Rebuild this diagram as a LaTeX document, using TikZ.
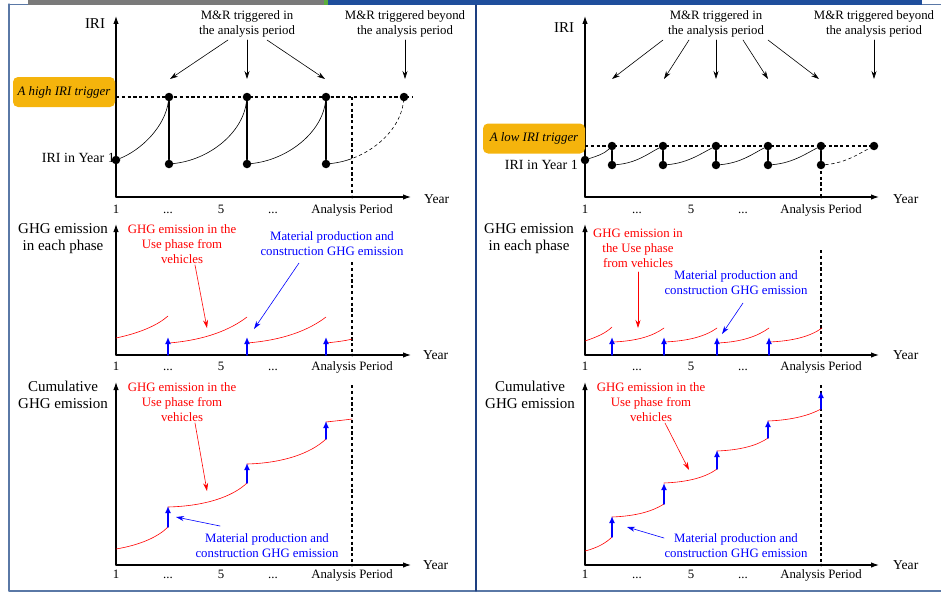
\documentclass[tikz,border=0pt]{standalone}
\usepackage{fontspec}
\setmainfont{Liberation Serif}
\usetikzlibrary{arrows.meta}
\definecolor{trigbox}{HTML}{F5B40C}
\definecolor{framecol}{HTML}{5A78A6}
\definecolor{navyline}{HTML}{1D3F80}
\definecolor{bargray}{HTML}{7A7A7A}
\definecolor{bargreen}{HTML}{5BAE3C}
\definecolor{barblue}{HTML}{1F4E9C}
\begin{document}
\begin{tikzpicture}[x=1pt,y=-1pt,>=Stealth,line cap=round,line join=round,
  font=\fontsize{12.8}{15}\selectfont,
  dot/.style={circle,fill,inner sep=0pt,minimum size=8.5pt},
  enddot/.style={circle,fill,inner sep=0pt,minimum size=3pt},
  txt/.style={align=center,inner sep=0pt},
  ylabel/.style={align=center,inner sep=0pt,font=\fontsize{15}{17}\selectfont},
  yearlabel/.style={anchor=base west,inner sep=0pt,font=\fontsize{13.6}{15}\selectfont},
  startlabel/.style={anchor=east,inner sep=0pt,font=\fontsize{14}{15}\selectfont},
  tick/.style={anchor=base,inner sep=0pt},
  axisline/.style={line width=1.1pt,-{Latex[length=8pt,width=5.5pt]}},
  trigline/.style={line width=1.6pt,line cap=butt,dash pattern=on 3.2pt off 2.6pt},
  pointer/.style={semithick,-{Stealth[length=8pt,width=5pt]}},
  usecurve/.style={red,semithick},
  matarrow/.style={blue,line width=1.4pt,-{Latex[length=7pt,width=6pt]}},
  trigger/.style={fill=trigbox,rounded corners=5pt,minimum width=102pt,minimum height=30pt,inner sep=0pt,font=\fontsize{12.9}{15}\selectfont\itshape}]
  \useasboundingbox (0,0) rectangle (941,594);
  \draw[framecol,thin] (9,4) -- (941,4);
  \fill[bargray] (28,0) rectangle (324,5);
  \fill[bargreen] (324,0) rectangle (328,5);
  \fill[barblue] (328,0) rectangle (922,5);
  \draw[framecol,line width=1.2pt] (9,4) -- (9,591) -- (941,591);
  \draw[navyline,line width=1.2pt] (476,5) -- (476,591);
  % left: IRI
  \draw[axisline] (116,197) -- (116,16);
  \draw[axisline] (116,197) -- (411,197);
  \node[tick,font=\fontsize{15}{17}\selectfont] (lyA) at (95,29) {IRI};
  \node[yearlabel] (lxA) at (424,203) {Year};
  \node[tick] (ltA1) at (116,213) {1};
  \node[tick] (ltA2) at (168,213) {...};
  \node[tick] (ltA3) at (221,213) {5};
  \node[tick] (ltA4) at (273,213) {...};
  \node[tick] (ltA5) at (352,213) {Analysis Period};
  \node[trigger] (ltrig) at (64,92) {A high IRI trigger};
  \node[startlabel] (lyear1) at (115,158) {IRI in Year 1};
  \draw[trigline] (116,97) -- (412,97);
  \draw[trigline] (352,97) -- (352,197);
  \node[enddot] (lend1) at (352,197) {};
  \node[dot] (ls) at (116,160) {};
  \node[dot] (lt1) at (169,97) {};
  \node[dot] (lt2) at (247,97) {};
  \node[dot] (lt3) at (326,97) {};
  \node[dot] (lt4) at (404,97) {};
  \node[dot] (lb1) at (169,164) {};
  \node[dot] (lb2) at (247,164) {};
  \node[dot] (lb3) at (326,164) {};
  \draw[semithick] (ls) .. controls +(25,-10) and +(-4,30) .. (lt1);
  \draw[semithick] (lb1) .. controls +(40,-4) and +(-4,36) .. (lt2);
  \draw[semithick] (lb2) .. controls +(40,-4) and +(-4,36) .. (lt3);
  \begin{scope}
    \clip (300,80) rectangle (352,200);
    \draw[semithick] (lb3) .. controls +(40,-4) and +(-4,36) .. (lt4);
  \end{scope}
  \begin{scope}
    \clip (352,80) rectangle (420,200);
    \draw[semithick,dashed] (lb3) .. controls +(40,-4) and +(-4,36) .. (lt4);
  \end{scope}
  \draw[line width=1.2pt] (lt1) -- (lb1);
  \draw[line width=1.2pt] (lt2) -- (lb2);
  \draw[line width=1.2pt] (lt3) -- (lb3);
  \node[txt] (lmr) at (247,24) {M\&R triggered in\\the analysis period};
  \node[txt] (lmrb) at (405,24) {M\&R triggered beyond\\the analysis period};
  \coordinate (la1) at (228,40); \coordinate (la1e) at (170,79);
  \coordinate (la2) at (247,40); \coordinate (la2e) at (247,79);
  \coordinate (la3) at (267,40); \coordinate (la3e) at (325,79);
  \coordinate (la4) at (405,40); \coordinate (la4e) at (405,79);
  \draw[pointer] (la1) -- (la1e);
  \draw[pointer] (la2) -- (la2e);
  \draw[pointer] (la3) -- (la3e);
  \draw[pointer] (la4) -- (la4e);
  % left: GHG in each phase
  \draw[axisline] (116,355) -- (116,224);
  \draw[axisline] (116,355) -- (411,355);
  \node[ylabel] (lyB) at (63,239) {GHG emission\\in each phase};
  \node[yearlabel] (lxB) at (423,359) {Year};
  \node[tick] (ltB1) at (116,370) {1};
  \node[tick] (ltB2) at (168,370) {...};
  \node[tick] (ltB3) at (221,370) {5};
  \node[tick] (ltB4) at (273,370) {...};
  \node[tick] (ltB5) at (352,370) {Analysis Period};
  \draw[trigline] (352,262) -- (352,355);
  \node[enddot] (lend2) at (352,355) {};
  \draw[usecurve] (116,338) .. controls (140,333) and (158,325) .. (168,316);
  \draw[usecurve] (169,343) .. controls (205,340) and (230,330) .. (247,317);
  \draw[usecurve] (247,343) .. controls (284,340) and (309,330) .. (326,317);
  \draw[usecurve] (326,343) .. controls (335,342) and (345,341) .. (352,339);
  \draw[matarrow] (168,355) -- (168,337);
  \draw[matarrow] (247,355) -- (247,337);
  \draw[matarrow] (326,355) -- (326,337);
  \node[txt,red] (luseB) at (182,244) {GHG emission in the\\Use phase from\\vehicles};
  \node[txt,blue] (lmatB) at (332,244) {Material production and\\construction GHG emission};
  \coordinate (lr1) at (195,265); \coordinate (lr1e) at (207,328);
  \coordinate (lb1a) at (299,263); \coordinate (lb1ae) at (254,329);
  \draw[pointer,red] (lr1) -- (lr1e);
  \draw[pointer,blue] (lb1a) -- (lb1ae);
  % left: cumulative
  \draw[axisline] (116,565) -- (116,382);
  \draw[axisline] (116,565) -- (411,565);
  \node[ylabel] (lyC) at (63,395) {Cumulative\\GHG emission};
  \node[yearlabel] (lxC) at (423,569) {Year};
  \node[tick] (ltC1) at (116,578) {1};
  \node[tick] (ltC2) at (168,578) {...};
  \node[tick] (ltC3) at (221,578) {5};
  \node[tick] (ltC4) at (273,578) {...};
  \node[tick] (ltC5) at (352,578) {Analysis Period};
  \draw[trigline] (352,385) -- (352,565);
  \node[enddot] (lend3) at (352,565) {};
  \draw[usecurve] (116,549) .. controls (140,545) and (158,537) .. (168,527);
  \draw[usecurve] (168,507) .. controls (205,506) and (232,497) .. (247,483);
  \draw[usecurve] (247,464) .. controls (284,463) and (311,453) .. (326,439);
  \draw[usecurve] (326,422) .. controls (335,421) and (345,420) .. (352,419);
  \draw[matarrow] (168,527) -- (168,506);
  \draw[matarrow] (247,483) -- (247,463);
  \draw[matarrow] (326,439) -- (326,421);
  \node[txt,red] (luseC) at (182,402) {GHG emission in the\\Use phase from\\vehicles};
  \node[txt,blue] (lmatC) at (267,546) {Material production and\\construction GHG emission};
  \coordinate (lr2) at (195,423); \coordinate (lr2e) at (207,491);
  \coordinate (lb2a) at (220,526); \coordinate (lb2ae) at (176,517);
  \draw[pointer,red] (lr2) -- (lr2e);
  \draw[pointer,blue] (lb2a) -- (lb2ae);
  % right: IRI
  \draw[axisline] (585,197) -- (585,16);
  \draw[axisline] (585,197) -- (879,197);
  \node[tick,font=\fontsize{15}{17}\selectfont] (ryA) at (564,33) {IRI};
  \node[yearlabel] (rxA) at (893,203) {Year};
  \node[tick] (rtA1) at (585,213) {1};
  \node[tick] (rtA2) at (637,213) {...};
  \node[tick] (rtA3) at (691,213) {5};
  \node[tick] (rtA4) at (743,213) {...};
  \node[tick] (rtA5) at (821,213) {Analysis Period};
  \node[trigger] (rtrig) at (534,138.5) {A low IRI trigger};
  \node[startlabel] (ryear1) at (578,165) {IRI in Year 1};
  \draw[trigline] (585,146) -- (880,146);
  \draw[trigline] (821,165) -- (821,197);
  \node[enddot] (rend1) at (821,197) {};
  \node[dot] (rs) at (585,160) {};
  \node[dot] (rt1) at (612,146) {};
  \node[dot] (rt2) at (663,146) {};
  \node[dot] (rt3) at (716,146) {};
  \node[dot] (rt4) at (768,146) {};
  \node[dot] (rt5) at (821,146) {};
  \node[dot] (rt6) at (874,146) {};
  \node[dot] (rb1) at (612,165) {};
  \node[dot] (rb2) at (663,165) {};
  \node[dot] (rb3) at (716,165) {};
  \node[dot] (rb4) at (768,165) {};
  \node[dot] (rb5) at (821,165) {};
  \draw[semithick] (rs) .. controls +(12,-4) and +(-8,8) .. (rt1);
  \draw[semithick] (rb1) .. controls +(25,-2) and +(-14,7) .. (rt2);
  \draw[semithick] (rb2) .. controls +(25,-2) and +(-14,7) .. (rt3);
  \draw[semithick] (rb3) .. controls +(25,-2) and +(-14,7) .. (rt4);
  \draw[semithick] (rb4) .. controls +(25,-2) and +(-14,7) .. (rt5);
  \draw[semithick,dashed] (rb5) .. controls +(25,-2) and +(-14,7) .. (rt6);
  \draw[line width=1.2pt] (rt1) -- (rb1);
  \draw[line width=1.2pt] (rt2) -- (rb2);
  \draw[line width=1.2pt] (rt3) -- (rb3);
  \draw[line width=1.2pt] (rt4) -- (rb4);
  \draw[line width=1.2pt] (rt5) -- (rb5);
  \node[txt] (rmr) at (716,24) {M\&R triggered in\\the analysis period};
  \node[txt] (rmrb) at (874,24) {M\&R triggered beyond\\the analysis period};
  \coordinate (ra1) at (663,40); \coordinate (ra1e) at (612,79);
  \coordinate (ra2) at (689,40); \coordinate (ra2e) at (664,79);
  \coordinate (ra3) at (716,40); \coordinate (ra3e) at (716,79);
  \coordinate (ra4) at (743,40); \coordinate (ra4e) at (768,79);
  \coordinate (ra5) at (768,40); \coordinate (ra5e) at (819,79);
  \coordinate (ra6) at (874,40); \coordinate (ra6e) at (874,79);
  \draw[pointer] (ra1) -- (ra1e);
  \draw[pointer] (ra2) -- (ra2e);
  \draw[pointer] (ra3) -- (ra3e);
  \draw[pointer] (ra4) -- (ra4e);
  \draw[pointer] (ra5) -- (ra5e);
  \draw[pointer] (ra6) -- (ra6e);
  % right: GHG in each phase
  \draw[axisline] (585,355) -- (585,224);
  \draw[axisline] (585,355) -- (879,355);
  \node[ylabel] (ryB) at (529,239) {GHG emission\\in each phase};
  \node[yearlabel] (rxB) at (893,359) {Year};
  \node[tick] (rtB1) at (585,370) {1};
  \node[tick] (rtB2) at (637,370) {...};
  \node[tick] (rtB3) at (691,370) {5};
  \node[tick] (rtB4) at (743,370) {...};
  \node[tick] (rtB5) at (821,370) {Analysis Period};
  \draw[trigline] (821,250) -- (821,355);
  \node[enddot] (rend2) at (821,355) {};
  \draw[usecurve] (585,341) .. controls (597,337) and (606,333) .. (612,327);
  \draw[usecurve] (613,342) .. controls (637,341) and (653,336) .. (664,328);
  \draw[usecurve] (664,342) .. controls (689,341) and (706,336) .. (717,328);
  \draw[usecurve] (717,343) .. controls (742,342) and (758,336) .. (769,328);
  \draw[usecurve] (769,342) .. controls (794,341) and (811,336) .. (822,328);
  \draw[matarrow] (612,355) -- (612,337);
  \draw[matarrow] (664,355) -- (664,337);
  \draw[matarrow] (717,355) -- (717,337);
  \draw[matarrow] (769,355) -- (769,337);
  \node[txt,red] (ruseB) at (638,248) {GHG emission in\\the Use phase\\from vehicles};
  \node[txt,blue] (rmatB) at (736,283) {Material production and\\construction GHG emission};
  \coordinate (rr1) at (638,272); \coordinate (rr1e) at (638,328);
  \coordinate (rb1a) at (743,303); \coordinate (rb1ae) at (722,334);
  \draw[pointer,red] (rr1) -- (rr1e);
  \draw[pointer,blue] (rb1a) -- (rb1ae);
  % right: cumulative
  \draw[axisline] (585,565) -- (585,382);
  \draw[axisline] (585,565) -- (879,565);
  \node[ylabel] (ryC) at (530,395) {Cumulative\\GHG emission};
  \node[yearlabel] (rxC) at (893,569) {Year};
  \node[tick] (rtC1) at (585,578) {1};
  \node[tick] (rtC2) at (637,578) {...};
  \node[tick] (rtC3) at (691,578) {5};
  \node[tick] (rtC4) at (743,578) {...};
  \node[tick] (rtC5) at (821,578) {Analysis Period};
  \draw[trigline] (821,385) -- (821,565);
  \node[enddot] (rend3) at (821,565) {};
  \draw[usecurve] (585,551) .. controls (597,548) and (606,543) .. (612,537);
  \draw[usecurve] (612,517) .. controls (637,516) and (653,511) .. (664,504);
  \draw[usecurve] (664,483) .. controls (689,482) and (706,477) .. (717,469);
  \draw[usecurve] (717,451) .. controls (742,450) and (758,445) .. (768,438);
  \draw[usecurve] (768,421) .. controls (793,420) and (810,415) .. (821,409);
  \draw[matarrow] (612,537) -- (612,516);
  \draw[matarrow] (664,504) -- (664,483);
  \draw[matarrow] (717,469) -- (717,450);
  \draw[matarrow] (768,438) -- (768,420);
  \draw[matarrow] (821,409) -- (821,391);
  \node[txt,red] (ruseC) at (651,402) {GHG emission in the\\Use phase from\\vehicles};
  \node[txt,blue] (rmatC) at (736,546) {Material production and\\construction GHG emission};
  \coordinate (rr2) at (665,423); \coordinate (rr2e) at (689,470);
  \coordinate (rb2a) at (664,538); \coordinate (rb2ae) at (627,527);
  \draw[pointer,red] (rr2) -- (rr2e);
  \draw[pointer,blue] (rb2a) -- (rb2ae);
\end{tikzpicture}
\end{document}
